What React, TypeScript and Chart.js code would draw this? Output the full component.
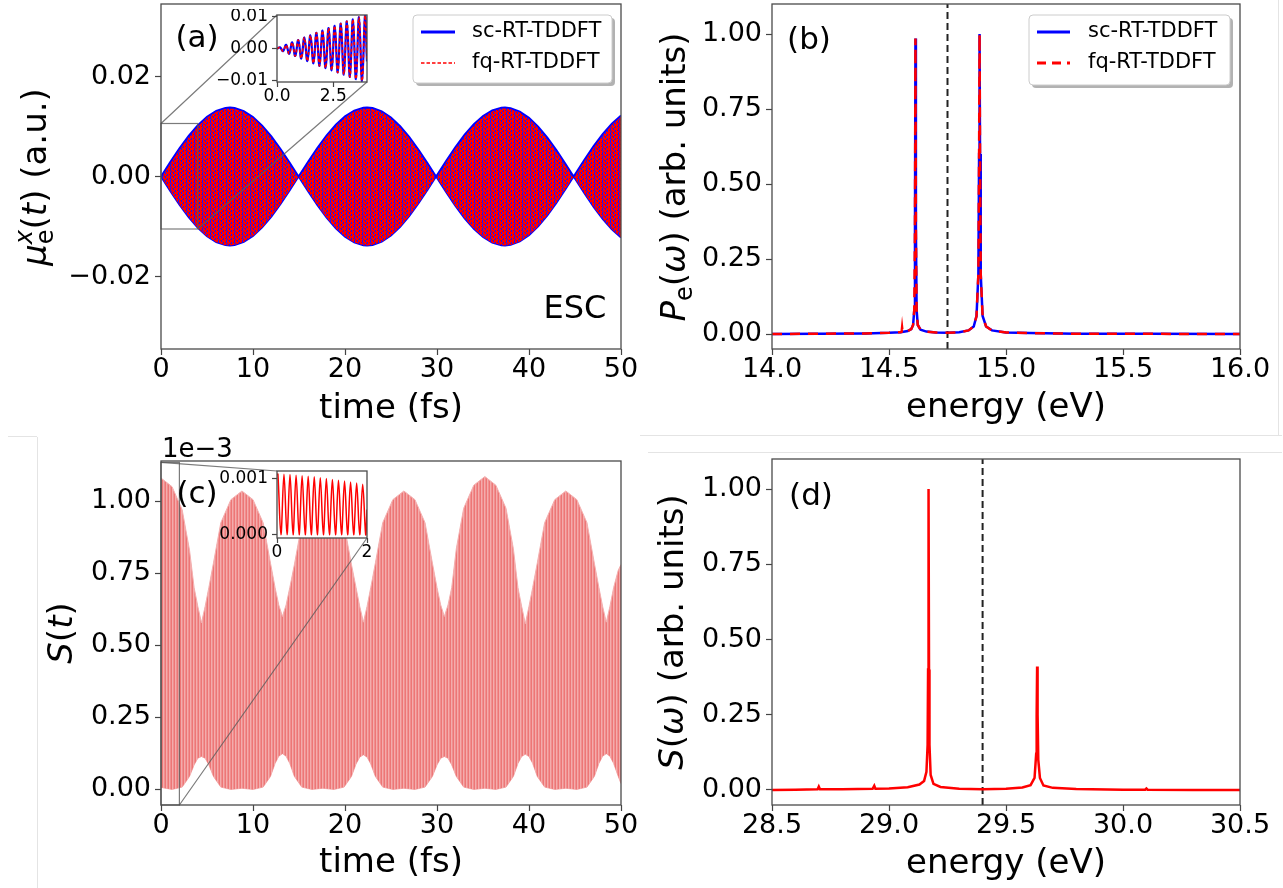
import React, { useEffect, useRef } from 'react';
import { Chart, registerables } from 'chart.js';

Chart.register(...registerables);

const FONT = 'DejaVu Sans';

// ================= Panel (a): mu_e^x(t) envelope of the fast oscillation =================
const timeA = [0, 1, 2, 3, 4, 5, 6, 7, 7.5, 8, 9, 10, 11, 12, 13, 14, 14.95, 16, 17, 18, 19, 20, 21, 22, 22.4, 23, 24, 25, 26, 27, 28, 29, 29.9, 31, 32, 33, 34, 35, 36, 37, 37.4, 38, 39, 40, 41, 42, 43, 44, 44.85, 46, 47, 48, 49, 50];
const upperA = [0, 0.00288, 0.00563, 0.00814, 0.01028, 0.01198, 0.01314, 0.01373, 0.0138, 0.01372, 0.0131, 0.01191, 0.01018, 0.00802, 0.00551, 0.00274, 0, 0.00302, 0.00576, 0.00825, 0.01038, 0.01205, 0.01318, 0.01375, 0.0138, 0.0137, 0.01305, 0.01183, 0.01008, 0.0079, 0.00537, 0.00259, 0, 0.00316, 0.0059, 0.00837, 0.01047, 0.01212, 0.01323, 0.01376, 0.0138, 0.01368, 0.01301, 0.01176, 0.00998, 0.00777, 0.00523, 0.00245, 0, 0.0033, 0.00603, 0.00848, 0.01057, 0.01219];
const lowerA = [0, -0.00288, -0.00563, -0.00814, -0.01028, -0.01198, -0.01314, -0.01373, -0.0138, -0.01372, -0.0131, -0.01191, -0.01018, -0.00802, -0.00551, -0.00274, 0, -0.00302, -0.00576, -0.00825, -0.01038, -0.01205, -0.01318, -0.01375, -0.0138, -0.0137, -0.01305, -0.01183, -0.01008, -0.0079, -0.00537, -0.00259, 0, -0.00316, -0.0059, -0.00837, -0.01047, -0.01212, -0.01323, -0.01376, -0.0138, -0.01368, -0.01301, -0.01176, -0.00998, -0.00777, -0.00523, -0.00245, 0, -0.0033, -0.00603, -0.00848, -0.01057, -0.01219];

// inset (a): first few fs
const insetTimeA = [0, 0.135, 0.27, 0.405, 0.54, 0.675, 0.81, 0.945, 1.08, 1.215, 1.35, 1.485, 1.62, 1.755, 1.89, 2.025, 2.16, 2.295, 2.43, 2.565, 2.7, 2.835, 2.97, 3.105, 3.24, 3.375, 3.51, 3.645, 3.78, 3.915, 4.0];
const insetScA = [0, 0.0004, -0.0008, 0.0012, -0.0016, 0.002, -0.0023, 0.0027, -0.0031, 0.0035, -0.0039, 0.0042, -0.0046, 0.005, -0.0054, 0.0057, -0.0061, 0.0065, -0.0068, 0.0072, -0.0075, 0.0079, -0.0082, 0.0086, -0.0089, 0.0092, -0.0096, 0.0099, -0.0102, 0.0105, -0.004];
const insetFqA = [0, 0.0004, -0.0008, 0.0012, -0.0016, 0.002, -0.0023, 0.0027, -0.0031, 0.0035, -0.0039, 0.0042, -0.0046, 0.005, -0.0054, 0.0057, -0.0061, 0.0065, -0.0068, 0.0072, -0.0075, 0.0079, -0.0082, 0.0086, -0.0089, 0.0092, -0.0096, 0.0099, -0.0102, 0.0105, -0.004];
const insetRangeAX = [0, 4.0];
const insetRangeAY = [-0.0105, 0.0106];

// ================= Panel (b): P_e(omega) =================
const energyScB = [14.0, 14.2, 14.4, 14.5, 14.55, 14.58, 14.595, 14.603, 14.608, 14.611, 14.613, 14.615, 14.618, 14.623, 14.635, 14.66, 14.7, 14.75, 14.8, 14.84, 14.862, 14.874, 14.882, 14.885, 14.887, 14.889, 14.892, 14.9, 14.915, 14.94, 15.0, 15.1, 15.3, 15.6, 16.0];
const scB = [0.0, 0.001, 0.002, 0.004, 0.006, 0.01, 0.016, 0.03, 0.08, 0.35, 0.985, 0.35, 0.08, 0.03, 0.014, 0.008, 0.005, 0.004, 0.006, 0.012, 0.025, 0.06, 0.2, 0.6, 1.0, 0.6, 0.2, 0.06, 0.025, 0.012, 0.005, 0.003, 0.001, 0.0005, 0.0];
const energyFqB = [14.0, 14.2, 14.4, 14.5, 14.55, 14.554, 14.556, 14.558, 14.58, 14.595, 14.603, 14.608, 14.611, 14.613, 14.615, 14.618, 14.623, 14.635, 14.66, 14.7, 14.75, 14.8, 14.84, 14.862, 14.874, 14.882, 14.885, 14.887, 14.889, 14.892, 14.9, 14.915, 14.94, 15.0, 15.1, 15.3, 15.6, 16.0];
const fqB = [0.0, 0.001, 0.002, 0.004, 0.006, 0.007, 0.022, 0.008, 0.01, 0.016, 0.03, 0.08, 0.35, 0.985, 0.35, 0.08, 0.03, 0.014, 0.008, 0.005, 0.004, 0.006, 0.012, 0.025, 0.06, 0.2, 0.6, 1.0, 0.6, 0.2, 0.06, 0.025, 0.012, 0.005, 0.003, 0.001, 0.0005, 0.0];
const refLineB = 14.75;

// ================= Panel (c): S(t), values in units of 1e-3 =================
const timeC = [0, 1.2, 2.3, 3.1, 3.6, 4.0, 4.4, 4.8, 5.2, 5.7, 6.5, 7.6, 8.8,
  10.0, 11.1, 11.9, 12.4, 12.8, 13.2, 13.6, 14.0, 14.5, 15.3, 16.4, 17.6,
  18.8, 19.9, 20.7, 21.2, 21.6, 22.0, 22.4, 22.8, 23.3, 24.1, 25.2, 26.4,
  27.6, 28.7, 29.5, 30.0, 30.4, 30.8, 31.2, 31.6, 32.1, 32.9, 34.0, 35.2,
  36.4, 37.5, 38.3, 38.8, 39.2, 39.6, 40.0, 40.4, 40.9, 41.7, 42.8, 44.0,
  45.2, 46.3, 47.1, 47.6, 48.0, 48.4, 48.8, 49.2, 49.7, 50.0];
const upperC = [1.08, 1.05, 0.97, 0.83, 0.7, 0.635, 0.578, 0.635, 0.7, 0.785, 0.925, 1.005, 1.035,
  1.005, 0.925, 0.785, 0.7, 0.64, 0.6, 0.64, 0.7, 0.78, 0.92, 1.0, 1.03,
  1.0, 0.92, 0.78, 0.7, 0.635, 0.58, 0.635, 0.7, 0.785, 0.925, 1.005, 1.035,
  1.005, 0.925, 0.785, 0.7, 0.64, 0.6, 0.64, 0.7, 0.835, 0.975, 1.055, 1.085,
  1.055, 0.975, 0.835, 0.7, 0.635, 0.575, 0.635, 0.7, 0.785, 0.925, 1.005, 1.035,
  1.005, 0.925, 0.785, 0.7, 0.635, 0.58, 0.635, 0.7, 0.76, 0.78];
const lowerC = [0.007, 0.0, 0.008, 0.045, 0.085, 0.108, 0.114, 0.108, 0.085, 0.045, 0.008, 0.0, 0.004,
  0.0, 0.008, 0.045, 0.09, 0.115, 0.124, 0.115, 0.09, 0.045, 0.008, 0.0, 0.004,
  0.0, 0.008, 0.045, 0.088, 0.112, 0.12, 0.112, 0.088, 0.045, 0.008, 0.0, 0.004,
  0.0, 0.008, 0.045, 0.085, 0.108, 0.114, 0.108, 0.085, 0.045, 0.008, 0.0, 0.004,
  0.0, 0.008, 0.045, 0.09, 0.114, 0.122, 0.114, 0.09, 0.045, 0.008, 0.0, 0.004,
  0.0, 0.008, 0.045, 0.09, 0.115, 0.124, 0.115, 0.09, 0.045, 0.02];

// inset (c): first 2 fs, units of 1e-3
const insetTimeC = [0, 0.02, 0.087, 0.155, 0.222, 0.289, 0.356, 0.424, 0.491, 0.558, 0.626, 0.693, 0.76, 0.828, 0.895, 0.962, 1.03, 1.097, 1.164, 1.231, 1.299, 1.366, 1.433, 1.501, 1.568, 1.635, 1.703, 1.77, 1.837, 1.904, 1.971, 2.0];
const insetSC = [1.06, 1.08, 0.005, 1.075, 0.005, 1.07, 0.005, 1.06, 0.005, 1.05, 0.005, 1.04, 0.005, 1.03, 0.005, 1.015, 0.005, 1.0, 0.005, 0.985, 0.005, 0.97, 0.005, 0.955, 0.005, 0.94, 0.005, 0.92, 0.005, 0.9, 0.005, 0.45];
const insetRangeCX = [0, 2];
const insetRangeCY = [-0.054, 1.134];

// ================= Panel (d): S(omega) =================
const energyD = [28.5, 28.6, 28.695, 28.7, 28.705, 28.8, 28.93, 28.937, 28.942, 29.0, 29.08, 29.13, 29.15, 29.16, 29.165, 29.167, 29.169, 29.171, 29.173, 29.178, 29.19, 29.22, 29.3, 29.4, 29.5, 29.57, 29.605, 29.622, 29.629, 29.631, 29.633, 29.635, 29.638, 29.645, 29.66, 29.7, 29.8, 30.0, 30.095, 30.1, 30.105, 30.3, 30.5];
const sD = [0.0, 0.001, 0.002, 0.011, 0.002, 0.002, 0.004, 0.014, 0.004, 0.005, 0.009, 0.018, 0.03, 0.06, 0.15, 0.4, 1.0, 0.4, 0.15, 0.05, 0.02, 0.01, 0.004, 0.002, 0.004, 0.008, 0.016, 0.04, 0.12, 0.25, 0.41, 0.25, 0.1, 0.04, 0.015, 0.007, 0.003, 0.001, 0.001, 0.005, 0.001, 0.0, 0.0];
const refLineD = 29.4;

// ================= Ticks / labels =================
const xTicksTime = [0, 10, 20, 30, 40, 50];
const xLabelsTime = ['0', '10', '20', '30', '40', '50'];
const yTicksA = [-0.02, 0, 0.02];
const yLabelsA = ['\u22120.02', '0.00', '0.02'];
const xTicksB = [14, 14.5, 15, 15.5, 16];
const xLabelsB = ['14.0', '14.5', '15.0', '15.5', '16.0'];
const yTicksUnit = [0, 0.25, 0.5, 0.75, 1];
const yLabelsUnit = ['0.00', '0.25', '0.50', '0.75', '1.00'];
const xTicksD = [28.5, 29, 29.5, 30, 30.5];
const xLabelsD = ['28.5', '29.0', '29.5', '30.0', '30.5'];
const xTicksIA = [0, 2.5];
const xLabelsIA = ['0.0', '2.5'];
const yTicksIA = [-0.01, 0, 0.01];
const yLabelsIA = ['\u22120.01', '0.00', '0.01'];
const xTicksIC = [0, 2];
const xLabelsIC = ['0', '2'];
const yTicksIC = [0, 1];
const yLabelsIC = ['0.000', '0.001'];
const legendLabels = ['sc-RT-TDDFT', 'fq-RT-TDDFT'];

// ================= Layout =================
type Box = { l: number; t: number; r: number; b: number };
const AREA_A: Box = { l: 161, t: 4, r: 621, b: 349 };
const PAD_A: Box = { l: 161, t: 4, r: 20, b: 80 };
const AREA_B: Box = { l: 772, t: 4, r: 1240, b: 349 };
const PAD_B: Box = { l: 140, t: 4, r: 40, b: 80 };
const AREA_C: Box = { l: 161, t: 461, r: 621, b: 805 };
const PAD_C: Box = { l: 161, t: 40, r: 20, b: 83 };
const AREA_D: Box = { l: 772, t: 459, r: 1240, b: 805 };
const PAD_D: Box = { l: 140, t: 40, r: 40, b: 83 };
const AREA_IA: Box = { l: 277, t: 15, r: 367, b: 82 };
const PAD_IA: Box = { l: 62, t: 6, r: 14, b: 28 };
const AREA_IC: Box = { l: 277, t: 471, r: 367, b: 538 };
const PAD_IC: Box = { l: 64, t: 6, r: 14, b: 28 };

function rectOf(a: Box, p: Box) {
  return { left: a.l - p.l, top: a.t - p.t, width: a.r - a.l + p.l + p.r, height: a.b - a.t + p.t + p.b };
}

const fnt = (size: number, italic = false) => `${italic ? 'italic ' : ''}${size}px "${FONT}"`;

function linAxis(o: { vertical: boolean; min: number; max: number; ticks: number[]; labels: string[]; size: number; tickLen: number; pad: number; box: number }) {
  return {
    type: 'linear',
    position: o.vertical ? 'left' : 'bottom',
    min: o.min,
    max: o.max,
    afterBuildTicks: (s: any) => {
      s.ticks = o.ticks.map((v) => ({ value: v }));
    },
    afterFit: (s: any) => {
      if (o.vertical) s.width = o.box;
      else s.height = o.box;
      s.paddingTop = 0;
      s.paddingBottom = 0;
      s.paddingLeft = 0;
      s.paddingRight = 0;
    },
    ticks: {
      autoSkip: false,
      maxRotation: 0,
      minRotation: 0,
      padding: o.pad,
      color: '#000',
      font: { family: FONT, size: o.size, lineHeight: 1 },
      callback: (_v: any, i: number) => o.labels[i],
    },
    grid: { display: true, drawOnChartArea: false, drawTicks: true, tickLength: o.tickLen, tickColor: '#444', tickWidth: 1.2, color: 'rgba(0,0,0,0)' },
    border: { display: false },
    title: { display: false },
  };
}

type Seg = { t: string; size: number; italic?: boolean; dy?: number; stack?: boolean };

function drawRich(ctx: CanvasRenderingContext2D, segs: Seg[], cx: number, cy: number, rotated: boolean, baseOff: number) {
  ctx.save();
  const widths = segs.map((s) => {
    ctx.font = fnt(s.size, s.italic);
    return ctx.measureText(s.t).width;
  });
  const pos: number[] = [];
  let x = 0;
  let lastStart = 0;
  let lastW = 0;
  segs.forEach((s, i) => {
    if (s.stack) {
      pos.push(lastStart);
      const ext = Math.max(lastW, widths[i]);
      x = lastStart + ext;
      lastW = ext;
    } else {
      pos.push(x);
      lastStart = x;
      lastW = widths[i];
      x += widths[i];
    }
  });
  const total = x;
  ctx.translate(cx, cy);
  if (rotated) ctx.rotate(-Math.PI / 2);
  ctx.textAlign = 'left';
  ctx.textBaseline = 'alphabetic';
  ctx.fillStyle = '#000';
  segs.forEach((s, i) => {
    ctx.font = fnt(s.size, s.italic);
    ctx.fillText(s.t, pos[i] - total / 2, baseOff + (s.dy || 0));
  });
  ctx.restore();
}

function drawText(ctx: CanvasRenderingContext2D, t: string, x: number, y: number, size: number, align: CanvasTextAlign = 'center', baseline: CanvasTextBaseline = 'middle') {
  ctx.save();
  ctx.font = fnt(size);
  ctx.fillStyle = '#000';
  ctx.textAlign = align;
  ctx.textBaseline = baseline;
  ctx.fillText(t, x, y);
  ctx.restore();
}

function roundRect(ctx: CanvasRenderingContext2D, x: number, y: number, w: number, h: number, r: number) {
  ctx.beginPath();
  ctx.moveTo(x + r, y);
  ctx.arcTo(x + w, y, x + w, y + h, r);
  ctx.arcTo(x + w, y + h, x, y + h, r);
  ctx.arcTo(x, y + h, x, y, r);
  ctx.arcTo(x, y, x + w, y, r);
  ctx.closePath();
}

type LegendEntry = { label: string; color: string; width: number; dash: number[] };
function drawLegend(ctx: CanvasRenderingContext2D, x: number, y: number, w: number, h: number, lx0: number, lx1: number, tx: number, rows: number[], entries: LegendEntry[]) {
  ctx.save();
  ctx.fillStyle = 'rgba(0,0,0,0.3)';
  roundRect(ctx, x + 3, y + 3, w, h, 4);
  ctx.fill();
  ctx.fillStyle = '#fff';
  roundRect(ctx, x, y, w, h, 4);
  ctx.fill();
  ctx.strokeStyle = '#cccccc';
  ctx.lineWidth = 1;
  ctx.stroke();
  entries.forEach((e, i) => {
    ctx.beginPath();
    ctx.setLineDash(e.dash);
    ctx.strokeStyle = e.color;
    ctx.lineWidth = e.width;
    ctx.moveTo(lx0, rows[i]);
    ctx.lineTo(lx1, rows[i]);
    ctx.stroke();
    ctx.setLineDash([]);
    ctx.fillStyle = '#000';
    ctx.font = fnt(21);
    ctx.textAlign = 'left';
    ctx.textBaseline = 'middle';
    ctx.fillText(e.label, tx, rows[i]);
  });
  ctx.restore();
}

function framePlugin(id: string, opts: { bg?: boolean; afterData?: (ctx: CanvasRenderingContext2D, chart: any) => void; after?: (ctx: CanvasRenderingContext2D, chart: any) => void }) {
  return {
    id,
    beforeDraw(chart: any) {
      if (!opts.bg) return;
      const { ctx, chartArea: a } = chart;
      ctx.save();
      ctx.fillStyle = '#fff';
      ctx.fillRect(a.left, a.top, a.right - a.left, a.bottom - a.top);
      ctx.restore();
    },
    afterDatasetsDraw(chart: any) {
      const { ctx, chartArea: a } = chart;
      if (opts.afterData) opts.afterData(ctx, chart);
      ctx.save();
      ctx.strokeStyle = '#4a4a4a';
      ctx.lineWidth = 1.3;
      ctx.strokeRect(a.left, a.top, a.right - a.left, a.bottom - a.top);
      ctx.restore();
    },
    afterDraw(chart: any) {
      if (opts.after) opts.after(chart.ctx, chart);
    },
  };
}

function makePattern(rows: string[][]) {
  const c = document.createElement('canvas');
  c.width = rows[0].length;
  c.height = rows.length;
  const g = c.getContext('2d')!;
  rows.forEach((row, y) => row.forEach((col, x) => {
    g.fillStyle = col;
    g.fillRect(x, y, 1, 1);
  }));
  return g.createPattern(c, 'repeat');
}

const pts = (xs: number[], ys: number[]) => xs.map((x, i) => ({ x, y: ys[i] }));

function baseOptions(pad: Box, x: any, y: any) {
  return {
    animation: false,
    responsive: false,
    maintainAspectRatio: false,
    devicePixelRatio: 1,
    events: [],
    layout: { padding: { left: 0, top: pad.t, right: pad.r, bottom: 0 } },
    plugins: { legend: { display: false }, tooltip: { enabled: false }, title: { display: false } },
    scales: { x, y },
    elements: { point: { radius: 0 }, line: { tension: 0 } },
  };
}

function connectInset(ctx: CanvasRenderingContext2D, chart: any, rx: number[], ry: number[], inset: Box, ox: number, oy: number) {
  const xs = chart.scales.x;
  const ys = chart.scales.y;
  const x0 = xs.getPixelForValue(rx[0]);
  const x1 = xs.getPixelForValue(rx[1]);
  const y0 = ys.getPixelForValue(ry[1]);
  const y1 = ys.getPixelForValue(ry[0]);
  ctx.save();
  ctx.strokeStyle = 'rgba(90,90,90,0.8)';
  ctx.lineWidth = 1.2;
  ctx.strokeRect(x0, y0, x1 - x0, y1 - y0);
  ctx.beginPath();
  ctx.moveTo(x0, y0);
  ctx.lineTo(inset.l - ox, inset.t - oy);
  ctx.moveTo(x1, y1);
  ctx.lineTo(inset.r - ox, inset.b - oy);
  ctx.stroke();
  ctx.restore();
}

export default function App() {
  const refA = useRef<HTMLCanvasElement>(null);
  const refB = useRef<HTMLCanvasElement>(null);
  const refC = useRef<HTMLCanvasElement>(null);
  const refD = useRef<HTMLCanvasElement>(null);
  const refIA = useRef<HTMLCanvasElement>(null);
  const refIC = useRef<HTMLCanvasElement>(null);

  const rA = rectOf(AREA_A, PAD_A);
  const rB = rectOf(AREA_B, PAD_B);
  const rC = rectOf(AREA_C, PAD_C);
  const rD = rectOf(AREA_D, PAD_D);
  const rIA = rectOf(AREA_IA, PAD_IA);
  const rIC = rectOf(AREA_IC, PAD_IC);

  useEffect(() => {
    Chart.defaults.font.family = FONT;
    const charts: Chart[] = [];
    const R = '#ff0000';
    const Rd = '#e00000';
    const Bl = '#1414ff';
    const patA = makePattern([
      [R, R, Bl, R, Rd, Bl, R, R],
      [R, R, Bl, R, R, Bl, R, R],
      [R, Rd, Bl, R, R, R, R, Bl],
      [R, R, R, Bl, R, R, Rd, Bl],
    ]);
    const c1 = 'rgb(237,118,118)';
    const c2 = 'rgb(244,172,172)';
    const c3 = 'rgb(240,143,143)';
    const patC = makePattern([[c1, c2, c3]]);

    // ---------- (a)
    {
      const ox = rA.left, oy = rA.top;
      const x = linAxis({ vertical: false, min: 0, max: 50, ticks: xTicksTime, labels: xLabelsTime, size: 27, tickLen: 6, pad: 1.5, box: PAD_A.b });
      const y = linAxis({ vertical: true, min: -0.0345, max: 0.0345, ticks: yTicksA, labels: yLabelsA, size: 27, tickLen: 6, pad: 4, box: PAD_A.l });
      charts.push(new Chart(refA.current!, {
        type: 'line',
        data: {
          datasets: [
            { data: pts(timeA, upperA), borderColor: '#0000ff', borderWidth: 1.8, backgroundColor: patA as any, fill: '+1', pointRadius: 0 },
            { data: pts(timeA, lowerA), borderColor: '#0000ff', borderWidth: 1.8, fill: false, pointRadius: 0 },
          ],
        },
        options: baseOptions(PAD_A, x, y) as any,
        plugins: [framePlugin('fa', {
          afterData: (ctx, chart) => connectInset(ctx, chart, insetRangeAX, insetRangeAY, AREA_IA, ox, oy),
          after: (ctx) => {
            drawText(ctx, '(a)', 197 - ox, 39 - oy, 31);
            drawText(ctx, 'ESC', 575 - ox, 310 - oy, 32);
            drawRich(ctx, [
              { t: '\u03bc', size: 34, italic: true },
              { t: 'e', size: 24, dy: 7 },
              { t: 'x', size: 24, italic: true, dy: -14, stack: true },
              { t: '(', size: 34 },
              { t: 't', size: 34, italic: true },
              { t: ')', size: 34 },
              { t: ' (a.u.)', size: 34 },
            ], 35 - ox, 177 - oy, true, 11);
            drawRich(ctx, [{ t: 'time (fs)', size: 34 }], 391 - ox, 418 - oy, false, 0);
            drawLegend(ctx, 413 - ox, 15 - oy, 199, 68, 421 - ox, 455 - ox, 472 - ox, [32 - oy, 63 - oy], [
              { label: legendLabels[0], color: '#0000ff', width: 3, dash: [] },
              { label: legendLabels[1], color: '#ff0000', width: 1.3, dash: [3.5, 2] },
            ]);
          },
        })],
      }));
    }

    // ---------- (b)  (datasets listed top-most first)
    {
      const ox = rB.left, oy = rB.top;
      const x = linAxis({ vertical: false, min: 14, max: 16, ticks: xTicksB, labels: xLabelsB, size: 27, tickLen: 6, pad: 1.5, box: PAD_B.b });
      const y = linAxis({ vertical: true, min: -0.05, max: 1.1, ticks: yTicksUnit, labels: yLabelsUnit, size: 27, tickLen: 6, pad: 4, box: PAD_B.l });
      charts.push(new Chart(refB.current!, {
        type: 'line',
        data: {
          datasets: [
            { data: pts(energyFqB, fqB), borderColor: '#ff0000', borderWidth: 2.5, borderDash: [10, 8], pointRadius: 0, fill: false },
            { data: pts(energyScB, scB), borderColor: '#0000ff', borderWidth: 2.5, pointRadius: 0, fill: false },
            { data: [{ x: refLineB, y: -0.05 }, { x: refLineB, y: 1.1 }], borderColor: '#222', borderWidth: 2, borderDash: [7, 4], pointRadius: 0, fill: false },
          ],
        },
        options: baseOptions(PAD_B, x, y) as any,
        plugins: [framePlugin('fb', {
          after: (ctx) => {
            drawText(ctx, '(b)', 809 - ox, 41 - oy, 31);
            drawRich(ctx, [
              { t: 'P', size: 34, italic: true },
              { t: 'e', size: 24, dy: 7 },
              { t: '(', size: 34 },
              { t: '\u03c9', size: 34, italic: true },
              { t: ')', size: 34 },
              { t: ' (arb. units)', size: 34 },
            ], 674 - ox, 177 - oy, true, 11);
            drawRich(ctx, [{ t: 'energy (eV)', size: 34 }], 1006 - ox, 417 - oy, false, 0);
            drawLegend(ctx, 1029 - ox, 15 - oy, 201, 70, 1037 - ox, 1070 - ox, 1088 - ox, [32 - oy, 63 - oy], [
              { label: legendLabels[0], color: '#0000ff', width: 3, dash: [] },
              { label: legendLabels[1], color: '#ff0000', width: 3, dash: [9, 6] },
            ]);
          },
        })],
      }));
    }

    // ---------- (c)
    {
      const ox = rC.left, oy = rC.top;
      const x = linAxis({ vertical: false, min: 0, max: 50, ticks: xTicksTime, labels: xLabelsTime, size: 27, tickLen: 6, pad: 1.5, box: PAD_C.b });
      const y = linAxis({ vertical: true, min: -0.054, max: 1.139, ticks: yTicksUnit, labels: yLabelsUnit, size: 27, tickLen: 6, pad: 4, box: PAD_C.l });
      charts.push(new Chart(refC.current!, {
        type: 'line',
        data: {
          datasets: [
            { data: pts(timeC, upperC), borderColor: 'rgb(243,175,175)', borderWidth: 1, backgroundColor: patC as any, fill: '+1', pointRadius: 0 },
            { data: pts(timeC, lowerC), borderColor: 'rgb(243,175,175)', borderWidth: 1, fill: false, pointRadius: 0 },
          ],
        },
        options: baseOptions(PAD_C, x, y) as any,
        plugins: [framePlugin('fc', {
          afterData: (ctx, chart) => connectInset(ctx, chart, insetRangeCX, insetRangeCY, AREA_IC, ox, oy),
          after: (ctx) => {
            drawText(ctx, '(c)', 197 - ox, 495 - oy, 31);
            drawText(ctx, '1e\u22123', 162 - ox, 457 - oy, 26, 'left', 'alphabetic');
            drawRich(ctx, [
              { t: 'S', size: 34, italic: true },
              { t: '(', size: 34 },
              { t: 't', size: 34, italic: true },
              { t: ')', size: 34 },
            ], 61 - ox, 633 - oy, true, 11);
            drawRich(ctx, [{ t: 'time (fs)', size: 34 }], 391 - ox, 872 - oy, false, 0);
          },
        })],
      }));
    }

    // ---------- (d)
    {
      const ox = rD.left, oy = rD.top;
      const x = linAxis({ vertical: false, min: 28.5, max: 30.5, ticks: xTicksD, labels: xLabelsD, size: 27, tickLen: 6, pad: 1.5, box: PAD_D.b });
      const y = linAxis({ vertical: true, min: -0.05, max: 1.1, ticks: yTicksUnit, labels: yLabelsUnit, size: 27, tickLen: 6, pad: 4, box: PAD_D.l });
      charts.push(new Chart(refD.current!, {
        type: 'line',
        data: {
          datasets: [
            { data: pts(energyD, sD), borderColor: '#ff0000', borderWidth: 2.5, pointRadius: 0, fill: false },
            { data: [{ x: refLineD, y: -0.05 }, { x: refLineD, y: 1.1 }], borderColor: '#222', borderWidth: 2, borderDash: [7, 4], pointRadius: 0, fill: false },
          ],
        },
        options: baseOptions(PAD_D, x, y) as any,
        plugins: [framePlugin('fd', {
          after: (ctx) => {
            drawText(ctx, '(d)', 811 - ox, 497 - oy, 31);
            drawRich(ctx, [
              { t: 'S', size: 34, italic: true },
              { t: '(', size: 34 },
              { t: '\u03c9', size: 34, italic: true },
              { t: ')', size: 34 },
              { t: ' (arb. units)', size: 34 },
            ], 672 - ox, 632 - oy, true, 11);
            drawRich(ctx, [{ t: 'energy (eV)', size: 34 }], 1006 - ox, 873 - oy, false, 0);
          },
        })],
      }));
    }

    // ---------- inset (a)
    {
      const x = linAxis({ vertical: false, min: insetRangeAX[0], max: insetRangeAX[1], ticks: xTicksIA, labels: xLabelsIA, size: 17, tickLen: 5, pad: 1.5, box: PAD_IA.b });
      const y = linAxis({ vertical: true, min: insetRangeAY[0], max: insetRangeAY[1], ticks: yTicksIA, labels: yLabelsIA, size: 17, tickLen: 5, pad: 4, box: PAD_IA.l });
      charts.push(new Chart(refIA.current!, {
        type: 'line',
        data: {
          datasets: [
            { data: pts(insetTimeA, insetFqA), borderColor: '#ff0000', borderWidth: 1.7, borderDash: [3, 2.5], tension: 0.4, pointRadius: 0, fill: false },
            { data: pts(insetTimeA, insetScA), borderColor: '#0000ff', borderWidth: 2.2, tension: 0.4, pointRadius: 0, fill: false },
          ],
        },
        options: baseOptions(PAD_IA, x, y) as any,
        plugins: [framePlugin('fia', { bg: true })],
      }));
    }

    // ---------- inset (c)
    {
      const x = linAxis({ vertical: false, min: insetRangeCX[0], max: insetRangeCX[1], ticks: xTicksIC, labels: xLabelsIC, size: 17, tickLen: 5, pad: 1.5, box: PAD_IC.b });
      const y = linAxis({ vertical: true, min: insetRangeCY[0], max: insetRangeCY[1], ticks: yTicksIC, labels: yLabelsIC, size: 17, tickLen: 5, pad: 4, box: PAD_IC.l });
      charts.push(new Chart(refIC.current!, {
        type: 'line',
        data: {
          datasets: [
            { data: pts(insetTimeC, insetSC), borderColor: '#ff0000', borderWidth: 1.5, tension: 0.35, pointRadius: 0, fill: false },
          ],
        },
        options: baseOptions(PAD_IC, x, y) as any,
        plugins: [framePlugin('fic', { bg: true })],
      }));
    }

    return () => charts.forEach((c) => c.destroy());
  }, []);

  const cv = (r: { left: number; top: number; width: number; height: number }, ref: any) => (
    <canvas ref={ref} width={r.width} height={r.height} style={{ position: 'absolute', left: r.left, top: r.top, width: r.width, height: r.height, display: 'block' }} />
  );
  const line = (l: number, t: number, w: number, h: number) => (
    <div style={{ position: 'absolute', left: l, top: t, width: w, height: h, background: '#e4e4e4' }} />
  );

  return (
    <div style={{ position: 'absolute', left: 0, top: 0, width: 1283, height: 888, background: '#fff', overflow: 'hidden' }}>
      {line(640, 435, 642, 1)}
      {line(1278, 0, 1, 435)}
      {line(648, 452, 634, 1)}
      {line(37, 437, 1, 451)}
      {line(8, 436, 29, 1)}
      {cv(rA, refA)}
      {cv(rB, refB)}
      {cv(rC, refC)}
      {cv(rD, refD)}
      {cv(rIA, refIA)}
      {cv(rIC, refIC)}
    </div>
  );
}
